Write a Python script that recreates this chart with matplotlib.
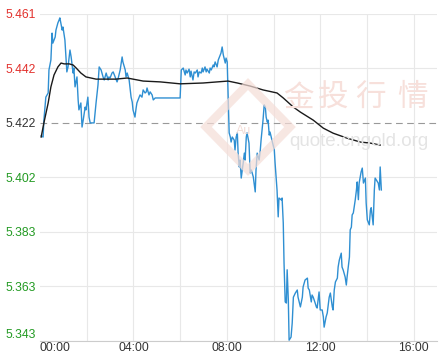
import numpy as np
import matplotlib
matplotlib.use("Agg")
import matplotlib.pyplot as plt
from matplotlib.patches import Polygon

plt.rcParams['font.family'] = ['Liberation Sans', 'Noto Sans CJK SC', 'DejaVu Sans']

# minutes after 00:00 / price
price_t = [3, 8, 10, 15, 21, 23, 28, 31, 33, 39, 41, 46, 49, 51, 57, 59, 64, 67, 69, 72,
           77, 80, 85, 87, 90, 95, 98, 100, 105, 108, 111, 116, 118, 123, 126, 129, 139, 144, 149, 152,
           157, 162, 165, 170, 175, 177, 180, 185, 188, 193, 198, 201, 206, 211, 213, 219, 221, 224, 229, 231,
           234, 237, 239, 244, 247, 249, 255, 257, 262, 265, 270, 273, 275, 280, 283, 288, 291, 296, 360, 363,
           368, 373, 375, 378, 383, 386, 388, 393, 396, 399, 404, 406, 409, 414, 417, 419, 424, 427, 429, 435,
           437, 440, 445, 447, 450, 455, 458, 460, 465, 468, 471, 476, 478, 481, 486, 489, 491, 494, 499, 501,
           504, 507, 509, 512, 514, 517, 522, 525, 527, 530, 532, 537, 540, 543, 548, 550, 553, 555, 558, 563,
           566, 568, 573, 576, 579, 581, 584, 586, 589, 591, 597, 602, 604, 607, 609, 612, 614, 620, 622, 625,
           627, 630, 633, 635, 638, 640, 645, 648, 651, 656, 661, 663, 669, 674, 676, 681, 687, 689, 692, 697,
           699, 702, 707, 710, 712, 717, 720, 725, 728, 730, 735, 738, 743, 746, 751, 753, 756, 759, 764, 766,
           769, 774, 776, 779, 784, 787, 789, 795, 797, 800, 802, 805, 810, 813, 815, 818, 820, 825, 828, 831,
           836, 838, 841, 846, 849, 851, 856, 859, 861, 867, 869, 872, 874, 877]
price_v = [5.4170, 5.4166, 5.4227, 5.4310, 5.4325, 5.4408, 5.4444, 5.4541, 5.4505, 5.4527,
           5.4552, 5.4578, 5.4588, 5.4596, 5.4552, 5.4563, 5.4516, 5.4444, 5.4401, 5.4419,
           5.4480, 5.4455, 5.4397, 5.4415, 5.4347, 5.4383, 5.4300, 5.4264, 5.4289, 5.4202,
           5.4227, 5.4274, 5.4264, 5.4310, 5.4238, 5.4217, 5.4217, 5.4289, 5.4354, 5.4419,
           5.4408, 5.4383, 5.4372, 5.4397, 5.4372, 5.4383, 5.4379, 5.4397, 5.4401, 5.4383,
           5.4365, 5.4379, 5.4408, 5.4455, 5.4437, 5.4408, 5.4383, 5.4397, 5.4372, 5.4347,
           5.4310, 5.4292, 5.4264, 5.4238, 5.4271, 5.4289, 5.4310, 5.4318, 5.4310, 5.4336,
           5.4325, 5.4329, 5.4343, 5.4318, 5.4329, 5.4318, 5.4300, 5.4307, 5.4307, 5.4408,
           5.4415, 5.4390, 5.4408, 5.4397, 5.4411, 5.4383, 5.4404, 5.4372, 5.4401, 5.4397,
           5.4408, 5.4383, 5.4401, 5.4397, 5.4415, 5.4401, 5.4419, 5.4401, 5.4411, 5.4397,
           5.4415, 5.4408, 5.4426, 5.4419, 5.4437, 5.4419, 5.4444, 5.4451, 5.4469, 5.4491,
           5.4462, 5.4433, 5.4451, 5.4437, 5.4181, 5.4166, 5.4148, 5.4166, 5.4155, 5.4119,
           5.4166, 5.4181, 5.4108, 5.4058, 5.4083, 5.4018, 5.4072, 5.4108, 5.4083, 5.4166,
           5.4181, 5.4144, 5.4036, 5.4047, 5.4022, 5.4000, 5.3968, 5.4047, 5.4108, 5.4083,
           5.4119, 5.4155, 5.4227, 5.4282, 5.4274, 5.4238, 5.4220, 5.4227, 5.4173, 5.4184,
           5.4148, 5.4119, 5.4072, 5.4011, 5.3975, 5.3878, 5.3946, 5.3939, 5.3946, 5.3856,
           5.3711, 5.3571, 5.3567, 5.3687, 5.3578, 5.3433, 5.3444, 5.3495, 5.3588, 5.3603,
           5.3614, 5.3588, 5.3553, 5.3588, 5.3625, 5.3650, 5.3657, 5.3621, 5.3614, 5.3571,
           5.3596, 5.3588, 5.3567, 5.3553, 5.3549, 5.3607, 5.3542, 5.3542, 5.3517, 5.3480,
           5.3517, 5.3531, 5.3588, 5.3603, 5.3553, 5.3542, 5.3614, 5.3643, 5.3657, 5.3697,
           5.3722, 5.3747, 5.3697, 5.3686, 5.3661, 5.3632, 5.3661, 5.3733, 5.3831, 5.3841,
           5.3885, 5.3892, 5.3940, 5.3975, 5.4004, 5.3940, 5.4000, 5.4040, 5.4054, 5.4000,
           5.4018, 5.3928, 5.3867, 5.3849, 5.3903, 5.3911, 5.3849, 5.3975, 5.4018, 5.4004,
           5.4000, 5.3975, 5.4058, 5.3975]

avg_t = [3, 10, 21, 28, 36, 46, 54, 62, 75, 85, 93, 105, 118, 131, 144, 195, 224, 265, 309, 360,
         419, 483, 507, 540, 573, 609, 625, 651, 669, 702, 728, 753, 789, 823, 849, 874]
avg_v = [5.4166, 5.4217, 5.4289, 5.4347, 5.4390, 5.4419, 5.4433, 5.4430, 5.4430, 5.4426,
         5.4415, 5.4397, 5.4383, 5.4379, 5.4375, 5.4375, 5.4379, 5.4368, 5.4365, 5.4358,
         5.4361, 5.4368, 5.4361, 5.4350, 5.4336, 5.4325, 5.4307, 5.4274, 5.4256, 5.4227,
         5.4198, 5.4180, 5.4162, 5.4148, 5.4144, 5.4137]

y_labels = ['5.343', '5.363', '5.383', '5.402', '5.422', '5.442', '5.461']
y_colors = ['#229a22'] * 4 + ['#333333'] + ['#e2302c'] * 2
x_labels = ['00:00', '04:00', '08:00', '12:00', '16:00']

y_lo, y_hi = 5.3430, 5.4610
pre_close = 5.4217

W, H = 441, 353
fig = plt.figure(figsize=(W / 100, H / 100), dpi=100)
ax = fig.add_axes([40 / W, 12 / H, 397 / W, 327 / H])

yticks = np.linspace(y_lo, y_hi, 7)
ax.set_ylim(y_lo, y_hi)
ax.set_xlim(0, 1020)

# grid
for yy in yticks:
    if abs(yy - pre_close) < 1e-4:
        continue
    ax.axhline(yy, color='#e8e8e8', lw=0.8, zorder=0)
for xx in range(120, 1020, 120):
    ax.axvline(xx, color='#e8e8e8', lw=0.8, zorder=0)
ax.axhline(pre_close, color='#999999', lw=0.8, ls=(0, (6, 4)), zorder=1)

for s in ['top', 'right', 'left']:
    ax.spines[s].set_visible(False)
ax.spines['bottom'].set_color('#cccccc')
ax.spines['bottom'].set_linewidth(0.8)

# watermark
def fx(px, py):
    return (px / W, 1 - py / H)

diamond = [fx(248, 84), fx(290, 127), fx(248, 170), fx(206, 127)]
fig.add_artist(Polygon(diamond, closed=True, fill=False, edgecolor='#f5ddd7',
                       lw=6, alpha=0.7, transform=fig.transFigure, zorder=0.5))
fig.text(*fx(244, 131), 'Au', color='#f3dcd6', fontsize=9, ha='center', va='center')
for ch, cx in zip('金投行情', [298, 333, 370, 412]):
    fig.text(*fx(cx, 98), ch, color='#f7e0db', fontsize=22, ha='center', va='center',
             family=['Noto Sans CJK SC', 'DejaVu Sans'])
fig.text(*fx(359, 142), 'quote.cngold.org', color='#e4e4e4', fontsize=13.5,
         ha='center', va='center')

ax.plot(price_t, price_v, color='#2f8fd2', lw=1.0, zorder=3)
ax.plot(avg_t, avg_v, color='#1a1a1a', lw=1.0, zorder=4)

ax.set_yticks(yticks)
ax.set_yticklabels(y_labels)
for lab, c in zip(ax.get_yticklabels(), y_colors):
    lab.set_color(c)
ax.get_yticklabels()[0].set_va('bottom')

ax.set_xticks([0, 240, 480, 720, 960])
ax.set_xticklabels(x_labels)
ax.get_xticklabels()[0].set_ha('left')
ax.tick_params(axis='both', length=0, labelsize=8.7)
ax.tick_params(axis='y', pad=3)
ax.tick_params(axis='x', pad=1, colors='#333333')

fig.savefig('out.png', dpi=100)
